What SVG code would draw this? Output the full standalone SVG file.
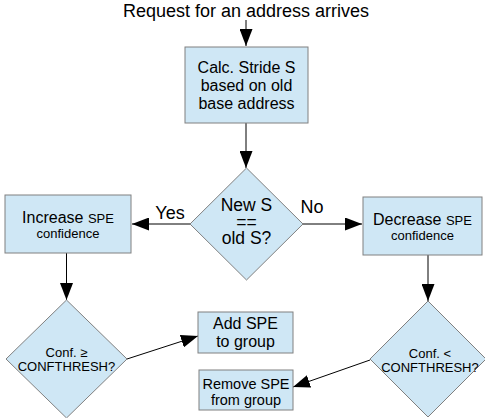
<svg xmlns="http://www.w3.org/2000/svg" width="485" height="418" viewBox="0 0 485 418">
<defs>
<marker id="ah" markerUnits="userSpaceOnUse" markerWidth="18" markerHeight="13" refX="17" refY="6.5" orient="auto">
<path d="M0,0 L17,6.5 L0,13 z" fill="#000"/>
</marker>
<style>
.n{fill:#cfe7f5;stroke:#808080;stroke-width:1}
.c{stroke:#000;stroke-width:1;fill:none;marker-end:url(#ah)}
text{font-family:"Liberation Sans",Arial,sans-serif;fill:#000;text-anchor:middle}
</style>
</defs>
<rect width="485" height="418" fill="#fff"/>
<g id="connectors">
<line class="c" x1="246" y1="20" x2="246" y2="46"/>
<line class="c" x1="246" y1="123" x2="246" y2="168"/>
<line class="c" x1="190" y1="224" x2="132" y2="224"/>
<line class="c" x1="303" y1="224" x2="362" y2="224"/>
<line class="c" x1="66.5" y1="253" x2="66.5" y2="300"/>
<line class="c" x1="428" y1="255" x2="428" y2="301"/>
<line class="c" x1="127" y1="359" x2="198" y2="336"/>
<line class="c" x1="370" y1="360" x2="293" y2="387"/>
<text x="170" y="219" font-size="18">Yes</text>
<text x="312" y="213" font-size="18">No</text>
</g>
<g id="start"><text x="246" y="17" font-size="18">Request for an address arrives</text></g>
<g id="calc">
<rect class="n" x="185" y="47" width="123" height="76"/>
<text x="246.5" y="73" font-size="16">Calc. Stride S</text>
<text x="246.5" y="91" font-size="16">based on old</text>
<text x="246.5" y="109" font-size="16">base address</text>
</g>
<g id="decision">
<polygon class="n" points="246.5,168 303,224 246.5,280 190,224"/>
<text font-size="17.5"><tspan x="246.5" y="211">New S</tspan><tspan x="246.5" y="228">==</tspan><tspan x="246.5" y="244">old S?</tspan></text>
</g>
<g id="increase">
<rect class="n" x="5" y="195" width="126" height="58"/>
<text x="68" y="223"><tspan font-size="16">Increase </tspan><tspan font-size="13">SPE</tspan></text>
<text x="68" y="238" font-size="13">confidence</text>
</g>
<g id="decrease">
<rect class="n" x="363" y="197" width="119" height="58"/>
<text x="422.5" y="225"><tspan font-size="16">Decrease </tspan><tspan font-size="13">SPE</tspan></text>
<text x="422.5" y="240" font-size="13">confidence</text>
</g>
<g id="confge">
<polygon class="n" points="66.5,300 127,359 66.5,418 6,359"/>
<text x="66.5" y="357" font-size="13">Conf. ≥</text>
<text x="66.5" y="371" font-size="13">CONFTHRESH?</text>
</g>
<g id="conflt">
<polygon class="n" points="428,301 486,359 428,417 370,359"/>
<text x="430" y="358" font-size="13">Conf. &lt;</text>
<text x="430" y="372" font-size="13">CONFTHRESH?</text>
</g>
<g id="add">
<rect class="n" x="198" y="312" width="95" height="41"/>
<text x="245.5" y="329" font-size="16">Add SPE</text>
<text x="245.5" y="347" font-size="16">to group</text>
</g>
<g id="remove">
<rect class="n" x="199" y="370" width="94" height="40"/>
<text x="246" y="389" font-size="14.5">Remove SPE</text>
<text x="246" y="405" font-size="14.5">from group</text>
</g>
</svg>
